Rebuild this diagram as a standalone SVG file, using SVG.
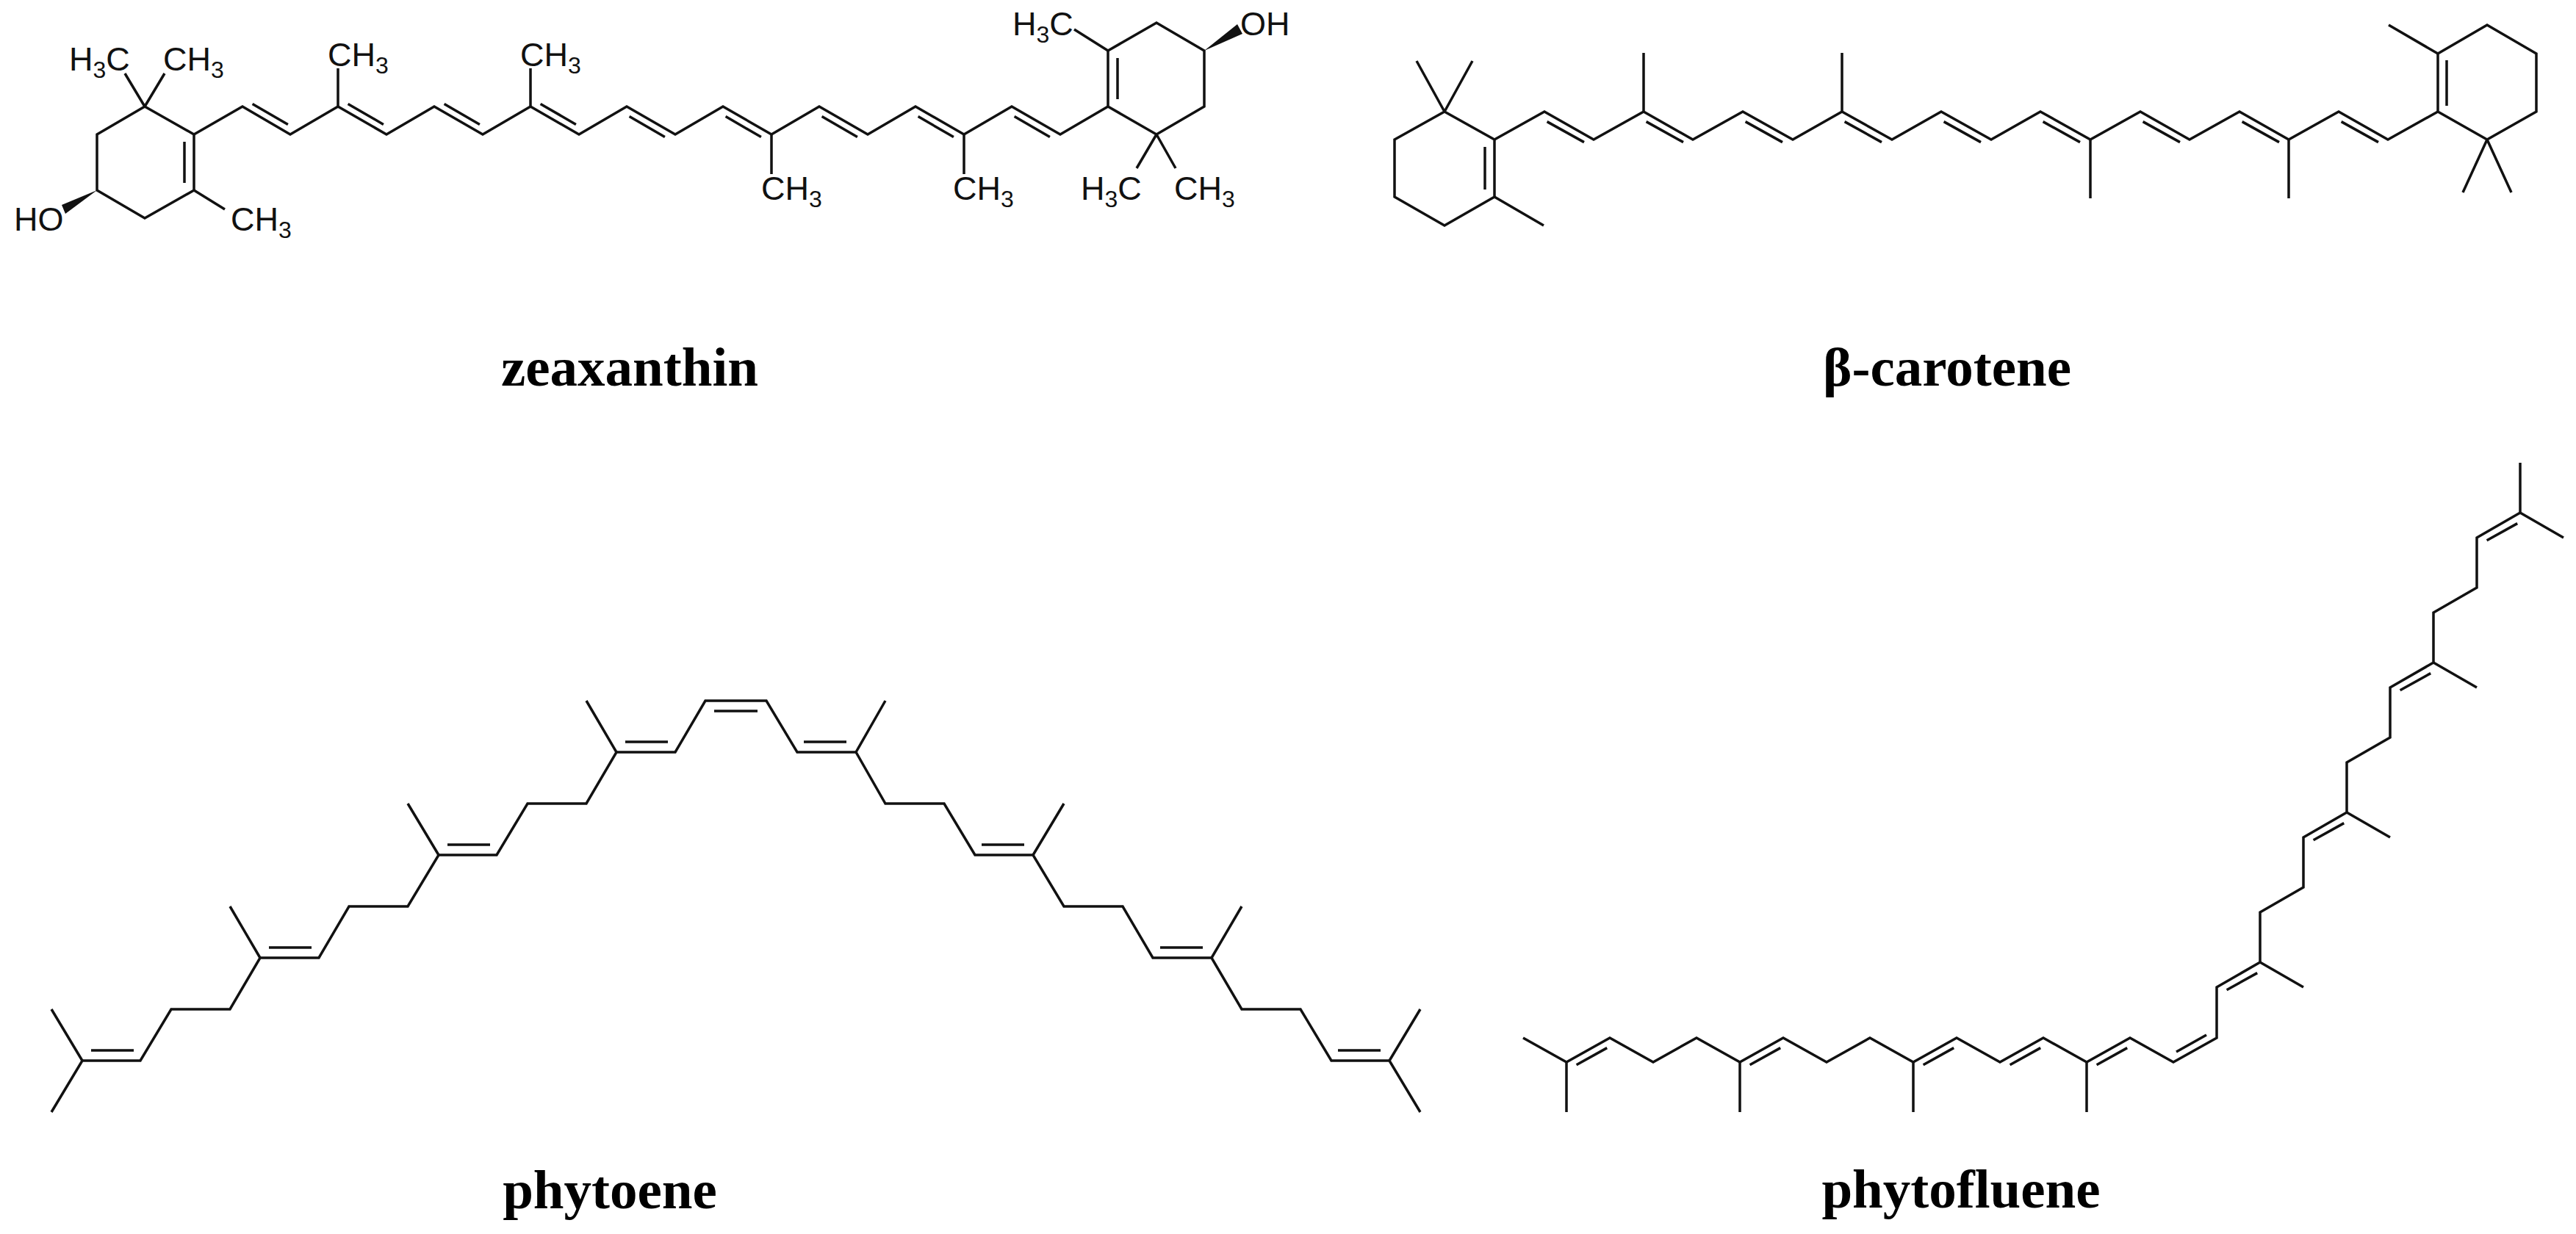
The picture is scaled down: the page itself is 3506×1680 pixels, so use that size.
<svg xmlns="http://www.w3.org/2000/svg" xmlns:xlink="http://www.w3.org/1999/xlink" width="3506" height="1680" viewBox="0 0 3506 1680">
<style>
.b{fill:none;stroke:#111;stroke-width:3.5;stroke-linejoin:miter;stroke-linecap:butt}
.t{font-family:"Liberation Sans",Arial,sans-serif;font-size:45px;fill:#111}
.s{font-size:32px}
.n{font-family:"Liberation Serif","Times New Roman",serif;font-weight:bold;font-size:75px;fill:#000;text-anchor:middle}
</style>
<defs>
<line id="zu" class="b" x1="13.6" y1="-3.6" x2="61.9" y2="24.4"/>
<line id="zd" class="b" x1="3.6" y1="13.6" x2="51.9" y2="41.6"/>
<line id="cd" class="b" x1="3.6" y1="13.6" x2="54" y2="41.6"/>
<line id="fa" class="b" x1="13.6" y1="3.8" x2="55.2" y2="-19.4"/>
</defs>
<rect width="3506" height="1680" fill="#fff"/>

<g id="zeaxanthin">
<polyline class="b" points="264,183 330,145 395,183 460,145 526,183 591,145 657,183 722,145 788,183 853,145 919,183 984,145 1050,183 1115,145 1181,183 1246,145 1312,183 1377,145 1443,183 1508,145"/>
<use href="#zu" x="330" y="145"/><use href="#zu" x="460" y="145"/><use href="#zu" x="591" y="145"/><use href="#zu" x="722" y="145"/>
<use href="#zd" x="853" y="145"/><use href="#zd" x="984" y="145"/><use href="#zd" x="1115" y="145"/><use href="#zd" x="1246" y="145"/><use href="#zd" x="1377" y="145"/>
<path class="b" d="M460,145V93M722,145V93M1050,183V237M1312,183V237"/>
<polygon class="b" points="264,183 264,259 197,297 132,259 132,183 197,145"/>
<path class="b" d="M251,193V249M197,145L170,100M197,145L224,100M264,259L306,285"/>
<polygon points="132,259 84,279 89,291" fill="#111"/>
<polygon class="b" points="1508,145 1508,69 1574,31 1639,69 1639,145 1574,183"/>
<path class="b" d="M1521,79V135M1508,69L1462,40M1574,183L1547,229M1574,183L1600,229"/>
<polygon points="1639,69 1684,33 1691,46" fill="#111"/>
<text class="t" x="94" y="96">H<tspan class="s" dy="10">3</tspan><tspan dy="-10">C</tspan></text>
<text class="t" x="222" y="96">CH<tspan class="s" dy="10">3</tspan></text>
<text class="t" x="19" y="314">HO</text>
<text class="t" x="314" y="314">CH<tspan class="s" dy="10">3</tspan></text>
<text class="t" x="446" y="90">CH<tspan class="s" dy="10">3</tspan></text>
<text class="t" x="708" y="90">CH<tspan class="s" dy="10">3</tspan></text>
<text class="t" x="1036" y="272">CH<tspan class="s" dy="10">3</tspan></text>
<text class="t" x="1297" y="272">CH<tspan class="s" dy="10">3</tspan></text>
<text class="t" x="1378" y="48">H<tspan class="s" dy="10">3</tspan><tspan dy="-10">C</tspan></text>
<text class="t" x="1688" y="48">OH</text>
<text class="t" x="1471" y="272">H<tspan class="s" dy="10">3</tspan><tspan dy="-10">C</tspan></text>
<text class="t" x="1598" y="272">CH<tspan class="s" dy="10">3</tspan></text>
<text class="n" x="857" y="525">zeaxanthin</text>
</g>

<g id="beta-carotene">
<polyline class="b" points="2034,190 2102,152 2169,190 2237,152 2304,190 2372,152 2440,190 2507,152 2575,190 2642,152 2710,190 2777,152 2845,190 2913,152 2980,190 3048,152 3115,190 3183,152 3250,190 3318,152"/>
<use href="#cd" x="2102" y="152"/><use href="#cd" x="2237" y="152"/><use href="#cd" x="2372" y="152"/><use href="#cd" x="2507" y="152"/><use href="#cd" x="2642" y="152"/><use href="#cd" x="2777" y="152"/><use href="#cd" x="2913" y="152"/><use href="#cd" x="3048" y="152"/><use href="#cd" x="3183" y="152"/>
<path class="b" d="M2237,152V72M2507,152V72M2845,190V270M3115,190V270"/>
<polygon class="b" points="2034,190 2034,268 1966,307 1898,268 1898,190 1966,152"/>
<path class="b" d="M2021,200V258M1966,152L1928,83M1966,152L2004,83M2034,268L2101,307"/>
<polygon class="b" points="3318,152 3318,73 3385,34 3452,73 3452,152 3385,190"/>
<path class="b" d="M3330,82V144M3318,73L3251,34M3385,190L3352,262M3385,190L3418,262"/>
<text class="n" x="2650" y="525">β-carotene</text>
</g>

<g id="phytoene">
<polyline class="b" points="70,1514 112,1444 191,1444 233,1374 313,1374 354,1304 434,1304 475,1234 555,1234 597,1164 676,1164 718,1094 798,1094 839,1024 919,1024 960,954 1043,954 1085,1024 1165,1024 1205,1094 1285,1094 1327,1164 1406,1164 1448,1234 1528,1234 1569,1304 1649,1304 1690,1374 1770,1374 1812,1444 1891,1444 1933,1514"/>
<path class="b" d="M112,1444L70,1374M354,1304L313,1234M597,1164L555,1094M839,1024L798,954M1891,1444L1933,1374M1649,1304L1690,1234M1406,1164L1448,1094M1165,1024L1205,954"/>
<path class="b" d="M124,1430H182M366,1290H424M609,1150H667M851,1010H909M972,968H1031M1094,1010H1152M1336,1150H1394M1579,1290H1637M1821,1430H1879"/>
<text class="n" x="830" y="1645">phytoene</text>
</g>

<g id="phytofluene">
<polyline class="b" points="2073,1413 2132,1446 2191,1413 2250,1446 2309,1413 2368,1446 2427,1413 2486,1446 2545,1413 2604,1446 2663,1413 2722,1446 2781,1413 2840,1446 2899,1413 2958,1446 3017,1413 3017,1344 3076,1310 3076,1242 3135,1208 3135,1140 3194,1106 3194,1038 3253,1004 3253,936 3312,902 3312,834 3371,800 3371,732 3430,698 3489,732"/>
<path class="b" d="M3430,698V630M3076,1310L3135,1344M3194,1106L3253,1140M3312,902L3371,936M2132,1446V1514M2368,1446V1514M2604,1446V1514M2840,1446V1514"/>
<use href="#fa" x="2132" y="1446"/><use href="#fa" x="2368" y="1446"/><use href="#fa" x="2604" y="1446"/><use href="#fa" x="2722" y="1446"/><use href="#fa" x="2840" y="1446"/>
<use href="#fa" x="3017" y="1344"/><use href="#fa" x="3135" y="1140"/><use href="#fa" x="3253" y="936"/><use href="#fa" x="3371" y="732"/>
<line class="b" x1="2962" y1="1432" x2="3003" y2="1409"/>
<text class="n" x="2669" y="1644">phytofluene</text>
</g>
</svg>
